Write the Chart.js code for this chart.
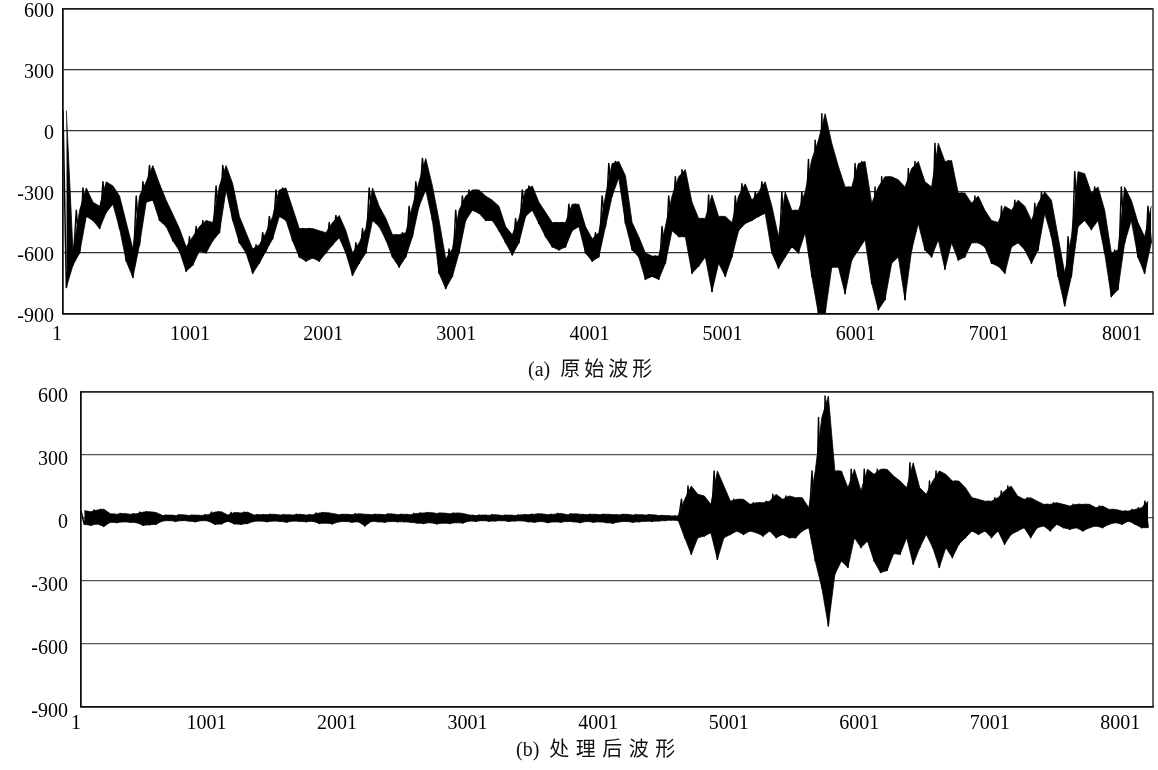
<!DOCTYPE html>
<html>
<head>
<meta charset="utf-8">
<script src="https://cdn.jsdelivr.net/npm/chart.js@4.4.1/dist/chart.umd.min.js"></script>
<style>
  html, body { margin: 0; padding: 0; background: #fff; }
  #wrap { position: relative; width: 1158px; height: 770px; overflow: hidden; background: #fff; }
  canvas { position: absolute; left: 0; }
  .cap { position: absolute; white-space: nowrap; color: #111; font-size: 20px; line-height: 22px;
         font-family: "Noto Sans CJK SC", sans-serif; }
  .cap .p { font-family: "Liberation Serif", serif; letter-spacing: 0; margin-right: 10px; }
</style>
</head>
<body>
<div id="wrap">
  <canvas id="ca" width="1158" height="350" style="top:0px"></canvas>
  <canvas id="cb" width="1158" height="360" style="top:380px"></canvas>
  <div class="cap" id="capA" style="left:528px; top:357px; letter-spacing:4px;"><span class="p">(a)</span>原始波形</div>
  <div class="cap" id="capB" style="left:516px; top:737px; letter-spacing:6.5px;"><span class="p">(b)</span>处理后波形</div>
</div>
<script>
// ---------- data (each bin = 50 samples; low / high of the trace in that bin) ----------
const binSize = 50;

const origLow = [
 -770,-660,-600,-420,-440,-480,-400,-360,-480,-640,
 -720,-560,-350,-340,-440,-470,-540,-590,-690,-660,
 -590,-600,-540,-500,-290,-440,-550,-600,-700,-650,
 -590,-530,-420,-440,-540,-620,-640,-625,-640,-600,
 -560,-525,-600,-710,-650,-600,-440,-470,-535,-620,
 -670,-620,-520,-370,-290,-440,-700,-775,-715,-600,
 -440,-390,-405,-440,-440,-490,-550,-610,-550,-420,
 -390,-455,-520,-570,-585,-570,-490,-470,-600,-640,
 -620,-470,-320,-230,-455,-585,-620,-730,-715,-730,
 -650,-490,-520,-520,-700,-665,-620,-790,-650,-715,
 -620,-490,-455,-440,-420,-405,-600,-675,-620,-570,
 -600,-500,-715,-900,-900,-670,-670,-800,-635,-585,
 -535,-750,-880,-830,-650,-620,-830,-585,-455,-585,
 -620,-535,-680,-550,-635,-620,-550,-550,-570,-650,
 -665,-700,-570,-550,-585,-650,-585,-405,-520,-715,
 -860,-715,-470,-440,-485,-440,-600,-815,-780,-550,
 -440,-620,-700,-550
];
const origHigh = [
  100,-590,-390,-280,-350,-370,-250,-270,-320,-450,
 -580,-320,-250,-170,-260,-340,-410,-480,-570,-520,
 -470,-440,-450,-270,-170,-260,-420,-500,-580,-560,
 -500,-420,-290,-280,-380,-480,-480,-480,-490,-500,
 -450,-415,-490,-600,-550,-480,-280,-370,-430,-510,
 -510,-500,-370,-250,-135,-270,-440,-630,-580,-390,
 -320,-290,-290,-320,-340,-370,-470,-510,-430,-290,
 -270,-350,-400,-450,-450,-450,-360,-360,-470,-530,
 -500,-320,-160,-150,-220,-450,-520,-600,-615,-615,
 -470,-320,-225,-190,-350,-430,-430,-315,-420,-420,
 -450,-320,-260,-340,-300,-250,-370,-520,-300,-390,
 -390,-300,-140, -45,  85, -60,-175,-275,-275,-160,
 -150,-355,-275,-225,-225,-240,-275,-185,-150,-250,
 -275, -60,-150,-145,-305,-305,-355,-320,-390,-440,
 -450,-370,-390,-340,-370,-440,-355,-300,-340,-520,
 -700,-520,-200,-210,-305,-275,-390,-600,-585,-275,
 -340,-450,-520,-370
];

const procLow = [
 -30,-35,-28,-40,-20,-22,-18,-20,-22,-35,
 -32,-30,-14,-12,-16,-12,-14,-18,-12,-14,
 -30,-28,-15,-28,-30,-26,-16,-14,-18,-14,
 -16,-20,-14,-16,-18,-15,-26,-24,-28,-18,
 -16,-20,-18,-38,-16,-18,-20,-16,-18,-18,
 -20,-24,-26,-22,-28,-24,-26,-22,-24,-14,
 -16,-12,-15,-14,-12,-16,-14,-13,-18,-20,
 -16,-22,-18,-20,-16,-18,-22,-16,-20,-18,
 -22,-25,-18,-16,-20,-18,-15,-16,-14,-12,
 -10,-12,-94,-173,-94,-86,-70,-197,-94,-78,
 -62,-78,-62,-70,-86,-62,-94,-78,-94,-94,
 -62,-46,-205,-332,-514,-268,-205,-236,-94,-141,
 -110,-205,-260,-250,-170,-173,-94,-220,-141,-78,
 -141,-236,-141,-189,-125,-94,-62,-78,-62,-94,
 -62,-125,-78,-62,-46,-94,-46,-38,-62,-30,
 -46,-54,-46,-62,-46,-38,-46,-30,-22,-30,
 -14,-30,-46,-46
];
const procHigh = [
  35, 30, 38, 42, 20, 18, 22, 18, 20, 28,
  30, 26, 12, 14, 12, 16, 12, 14, 12, 16,
  28, 30, 14, 26, 24, 28, 14, 16, 16, 18,
  14, 16, 14, 18, 14, 16, 24, 26, 22, 16,
  18, 16, 20, 18, 16, 18, 16, 20, 16, 18,
  16, 22, 24, 26, 22, 24, 20, 24, 22, 14,
  12, 14, 13, 16, 12, 14, 12, 15, 16, 18,
  20, 16, 18, 22, 16, 20, 18, 16, 18, 16,
  18, 16, 15, 18, 14, 16, 14, 16, 12, 12,
  10, 10, 89,152,113,105, 65,224,152, 80,
  89, 89, 65, 73, 73, 80,113, 89,105, 97,
  97, 49,224,478,581,224,224,144,232,129,
 232,208,232,232,200,176,144,263,144,113,
 176,224,208,176,176,144, 97, 89, 80, 80,
  97,129,152,105, 89, 97, 80, 65, 65, 73,
  65, 57, 65, 65, 65, 49, 57, 41, 41, 33,
  33, 41, 49, 80
];

const xTickValues = [1, 1001, 2001, 3001, 4001, 5001, 6001, 7001, 8001];
const xTickLabels = ['1', '1001', '2001', '3001', '4001', '5001', '6001', '7001', '8001'];
const yTickValues = [600, 300, 0, -300, -600, -900];

// ---------- build series from the bins ----------
function zigzag(low, high) {           // high then low inside each bin
  const pts = [];
  for (let k = 0; k < low.length; k++) {
    pts.push({ x: k * binSize + 1, y: high[k] });
    pts.push({ x: k * binSize + binSize / 2 + 1, y: low[k] });
  }
  return pts;
}
function edge(vals, off) {             // envelope edge at bin positions
  return vals.map((v, k) => ({ x: k * binSize + off, y: v }));
}

const frame = {
  id: 'frame',
  afterDraw(chart, args, opts) {
    const a = chart.chartArea, c = chart.ctx;
    c.save();
    c.strokeStyle = opts.color || '#000';
    c.lineWidth = opts.width || 1.3;
    c.strokeRect(a.left, a.top, a.right - a.left, a.bottom - a.top);
    c.restore();
  }
};

function makeChart(id, low, high, cfg) {
  return new Chart(document.getElementById(id), {
    type: 'line',
    data: { datasets: [
      { data: edge(high, 26), borderColor: '#000', borderWidth: 0.8, pointRadius: 0, tension: 0,
        fill: '+1', backgroundColor: '#000' },
      { data: edge(low, 26), borderColor: '#000', borderWidth: 0.8, pointRadius: 0, tension: 0, fill: false },
      { data: zigzag(low, high), borderColor: '#000', borderWidth: cfg.lw, pointRadius: 0,
        tension: 0, borderJoinStyle: 'round', fill: false }
    ]},
    plugins: [frame],
    options: {
      responsive: false, animation: false, parsing: false, normalized: true,
      layout: { padding: { top: cfg.padTop, right: 5, left: 0, bottom: 0 } },
      plugins: { legend: { display: false }, tooltip: { enabled: false }, frame: { color: '#111', width: 1.3 } },
      scales: {
        x: {
          type: 'linear', min: 1, max: cfg.xMax,
          afterBuildTicks: s => { s.ticks = xTickValues.map(v => ({ value: v })); },
          afterFit: s => { s.height = cfg.xH; s.paddingLeft = 0; s.paddingRight = 0; },
          grid: { display: false, drawTicks: false },
          border: { display: true, color: '#000', width: 1.3 },
          ticks: { autoSkip: false, maxRotation: 0, padding: cfg.xPad, labelOffset: cfg.xOff,
                   color: '#000', font: { family: 'Liberation Serif', size: 20 },
                   callback: (v, i) => xTickLabels[i] }
        },
        y: {
          min: -900, max: 600,
          afterBuildTicks: s => { s.ticks = yTickValues.map(v => ({ value: v })); },
          afterFit: s => { s.width = cfg.yW; s.paddingTop = 0; s.paddingBottom = 0; },
          grid: { color: cfg.gridColor, lineWidth: 1.2, drawTicks: false },
          border: { display: true, color: '#000', width: 1.3 },
          ticks: { padding: cfg.yPad, labelOffset: cfg.yOff, color: '#000',
                   font: { family: 'Liberation Serif', size: 20 },
                   callback: v => String(v) }
        }
      }
    }
  });
}

makeChart('ca', origLow, origHigh, {
  lw: 1.5, padTop: 9, xMax: 8189, xH: 36, xPad: 9, xOff: -6, yW: 63, yPad: 9, yOff: 3, gridColor: '#333'
});
makeChart('cb', procLow, procHigh, {
  lw: 1.5, padTop: 12, xMax: 8213, xH: 33, xPad: 5, xOff: -5, yW: 81, yPad: 13, yOff: 5, gridColor: '#555'
});
</script>
</body>
</html>
